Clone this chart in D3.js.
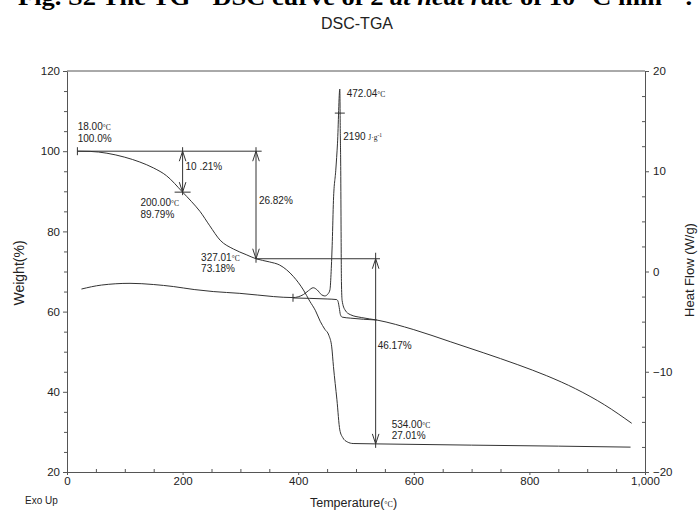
<!DOCTYPE html>
<html><head><meta charset="utf-8">
<script src="https://cdn.jsdelivr.net/npm/d3@7"></script>
<style>body{margin:0;background:#fff;} svg{display:block;}</style>
</head><body><svg id="c" width="699" height="510"></svg>
<script>
// ---- data ----
const tgaTemp   = [18,40,69,100,126,150,172,200,215,230,247,265,288,310,327,350,368,392,409,420,430,438,446,453,458,461,467,472,477,485,495,534,700,850,975];
const tgaWeight = [100,99.95,99.5,98.5,97.3,95.8,93.9,89.79,87.5,85.0,81.4,77.8,75.6,74.2,73.18,72.4,71.6,68.7,65.4,62.6,60.2,57.6,55.6,54.1,51.2,46.3,38.0,30.5,28.6,27.5,27.1,27.01,26.7,26.45,26.2];
const dscTemp   = [25,60,109,150,184,220,253,299,330,357,391,409,418,426,433,440,446,452,455,457,459,461,465,468,472,472.8,473.6,474.2,474.8,476,481,490,510,536,600,663,720,780,830,880,930,977];
const dscHeat   = [-1.75,-1.35,-1.18,-1.3,-1.5,-1.8,-2.0,-2.18,-2.35,-2.5,-2.6,-2.3,-1.9,-1.62,-1.85,-2.3,-2.44,-2.2,-1.8,0,3,7.1,10.1,12.8,18.2,14,10.1,4,-1,-2.9,-3.84,-4.3,-4.6,-4.84,-5.8,-7.0,-8.1,-9.3,-10.4,-11.7,-13.3,-15.14];
const baseTemp  = [391,420,450,466.6,469,471,473,476,490,536];
const baseHeat  = [-2.64,-2.68,-2.74,-2.8,-3.0,-3.6,-4.3,-4.55,-4.65,-4.84];
const tempTicks   = [0,200,400,600,800,1000];
const weightTicks = [20,40,60,80,100,120];
const heatTicks   = [-20,-10,0,10,20];

// ---- layout ----
const svg = d3.select("#c");
const m = {l:67, r:645, t:71, b:472};
const x  = d3.scaleLinear().domain([0,1000]).range([m.l,m.r]);
const yL = d3.scaleLinear().domain([20,120]).range([m.b,m.t]);
const yR = d3.scaleLinear().domain([-20,20]).range([m.b,m.t]);
const ink = "#333", axisInk = "#555", font = "Liberation Sans, Arial, sans-serif";

// cut-off figure caption at top
const cap = svg.append("text").attr("x",18).attr("y",5)
  .attr("font-family","Liberation Serif, Times New Roman, serif").attr("font-weight","bold")
  .attr("font-size",24).attr("fill","#000")
  .attr("textLength",674).attr("lengthAdjust","spacingAndGlyphs");
cap.append("tspan").text("Fig. S2 The TG - DSC curve of 2 ");
cap.append("tspan").attr("font-style","italic").text("at heat rate");
cap.append("tspan").text(" of 10 °C min⁻¹ .");

svg.append("text").attr("x",357).attr("y",29).attr("text-anchor","middle")
  .attr("font-family",font).attr("font-size",16).attr("fill","#222").text("DSC-TGA");

// ---- axes ----
function styleAxis(g){ g.selectAll("path,line").attr("stroke",axisInk); g.selectAll("text").attr("font-family",font).attr("fill","#222"); }
const minorRange = (a,b,s,skip)=>d3.range(a,b+1e-9,s).filter(v=>!skip.includes(v));

svg.append("g").attr("transform",`translate(${m.l},0)`)
  .call(d3.axisLeft(yL).tickValues(weightTicks).tickSize(4).tickSizeOuter(0).tickPadding(3))
  .call(styleAxis).call(g=>g.selectAll("text").attr("font-size",11.5));
svg.append("g").attr("transform",`translate(${m.l},0)`)
  .call(d3.axisLeft(yL).tickValues(minorRange(20,120,5,weightTicks)).tickSize(3).tickFormat(""))
  .call(styleAxis).call(g=>g.select(".domain").remove());

svg.append("g").attr("transform",`translate(${m.r},0)`)
  .call(d3.axisRight(yR).tickValues(heatTicks).tickSize(4).tickSizeOuter(0).tickPadding(4))
  .call(styleAxis).call(g=>g.selectAll("text").attr("font-size",11.5));
svg.append("g").attr("transform",`translate(${m.r},0)`)
  .call(d3.axisRight(yR).tickValues(minorRange(-20,20,2.5,heatTicks)).tickSize(-3).tickFormat(""))
  .call(styleAxis).call(g=>g.select(".domain").remove());

svg.append("g").attr("transform",`translate(0,${m.b})`)
  .call(d3.axisBottom(x).tickValues(tempTicks).tickSize(3).tickSizeOuter(0).tickPadding(2))
  .call(styleAxis).call(g=>g.selectAll("text").attr("font-size",11.5));
svg.append("g").attr("transform",`translate(0,${m.b})`)
  .call(d3.axisBottom(x).tickValues(minorRange(0,1000,50,tempTicks)).tickSize(-3).tickFormat(""))
  .call(styleAxis).call(g=>g.select(".domain").remove());

svg.append("line").attr("x1",m.l).attr("x2",m.r).attr("y1",m.t).attr("y2",m.t).attr("stroke",axisInk);

// axis titles
svg.append("text").attr("transform","translate(24,273) rotate(-90)").attr("text-anchor","middle")
  .attr("font-family",font).attr("font-size",14).attr("fill","#222").text("Weight(%)");
svg.append("text").attr("transform","translate(694,270) rotate(-90)").attr("text-anchor","middle")
  .attr("font-family",font).attr("font-size",13).attr("fill","#222").text("Heat Flow (W/g)");
const tt = svg.append("text").attr("x",310).attr("y",507).attr("font-family",font).attr("font-size",12.5).attr("fill","#222");
tt.append("tspan").text("Temperature(");
tt.append("tspan").attr("font-size",8).attr("font-family","Liberation Serif, serif").text("°C");
tt.append("tspan").text(")");
svg.append("text").attr("x",25).attr("y",504).attr("font-family",font).attr("font-size",10).attr("fill","#222").text("Exo Up");

// ---- curves ----
const lineL = d3.line().x(d=>x(d[0])).y(d=>yL(d[1])).curve(d3.curveMonotoneX);
const lineR = d3.line().x(d=>x(d[0])).y(d=>yR(d[1])).curve(d3.curveMonotoneX);
svg.append("path").datum(d3.zip(tgaTemp,tgaWeight)).attr("d",lineL).attr("fill","none").attr("stroke",ink).attr("stroke-width",1);
svg.append("path").datum(d3.zip(dscTemp,dscHeat)).attr("d",lineR).attr("fill","none").attr("stroke",ink).attr("stroke-width",1);
svg.append("path").datum(d3.zip(baseTemp,baseHeat)).attr("d",lineR).attr("fill","none").attr("stroke",ink).attr("stroke-width",1);

// ---- annotations ----
const ann = svg.append("g").attr("stroke",ink).attr("stroke-width",1).attr("fill","none");
function seg(x1,y1,x2,y2){ ann.append("line").attr("x1",x1).attr("y1",y1).attr("x2",x2).attr("y2",y2); }
function head(px,py,dir){ // dir -1 = points up, +1 = points down
  ann.append("path").attr("d",`M${px-3.3},${py-dir*10}L${px},${py}L${px+3.3},${py-dir*10}`);
}
seg(x(18),yL(100),x(336.8),yL(100));
seg(x(18),yL(100)-4,x(18),yL(100)+4);
seg(x(200),yL(100)-4,x(200),yL(89.79)+3);
head(x(200),yL(100),-1); head(x(200),yL(89.79),1);
seg(x(200)-8,yL(89.79),x(200)+8,yL(89.79));
seg(x(327.01),yL(100)-4,x(327.01),yL(73.18)+4);
head(x(327.01),yL(100),-1); head(x(327.01),yL(73.18),1);
seg(x(327.01),yL(73.18),x(541.5),yL(73.18));
seg(x(534),yL(73.18)-6,x(534),yL(27.01)+4);
head(x(534),yL(73.18),-1); head(x(534),yL(27.01),1);
seg(x(391),yR(-2.62)-4,x(391),yR(-2.62)+4);
seg(x(472)-5,yR(15.8),x(472)+5,yR(15.8));

// labels
function label(xd, yd, parts, scale){
  const t = svg.append("text").attr("x",x(xd)).attr("y",scale(yd))
    .attr("font-family",font).attr("font-size",10).attr("fill","#222");
  parts.forEach(p=>{
    const s = t.append("tspan").text(p[0]);
    if(p[1]==="u") s.attr("font-size",7.5).attr("font-family","Liberation Serif, serif");
    if(p[1]==="sup") s.attr("font-size",5.5).attr("baseline-shift","super").attr("font-family","Liberation Serif, serif");
  });
}
label(18.5,105.4,[["18.00"],["°C","u"]],yL);
label(18.5,102.3,[["100.0%"]],yL);
label(205,95.3,[["10 .21%"]],yL);
label(127,86.3,[["200.00"],["°C","u"]],yL);
label(127,83.4,[["89.79%"]],yL);
label(332,86.8,[["26.82%"]],yL);
label(232,72.7,[["327.01"],["°C","u"]],yL);
label(232,69.9,[["73.18%"]],yL);
label(537.5,50.55,[["46.17%"]],yL);
label(561.7,31.0,[["534.00"],["°C","u"]],yL);
label(561.7,28.2,[["27.01%"]],yL);
label(484,17.4,[["472.04"],["°C","u"]],yR);
label(478,13.1,[["2190 "],["J·g","u"],["-1","sup"]],yR);
</script></body></html>
